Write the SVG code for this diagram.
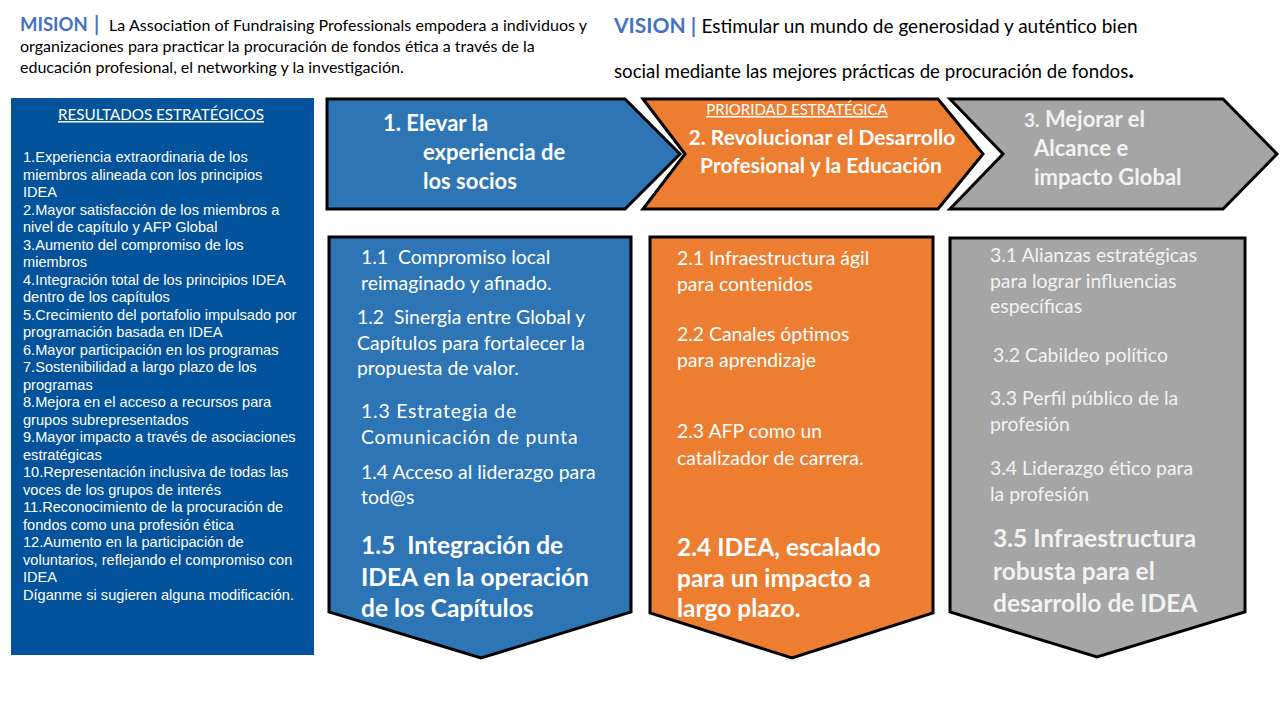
<svg xmlns="http://www.w3.org/2000/svg" width="1280" height="720" viewBox="0 0 1280 720">
<style>
.t{font-family:Lato,"Liberation Sans",sans-serif}
.a{font-family:"Liberation Sans",Arial,sans-serif}
.w{fill:#ffffff}
.lg{fill:#F2F2F2}
.sh{stroke:#000;stroke-width:3;stroke-linejoin:miter}
.item{font-size:14.6px;fill:#fff}
.sub{font-size:19.4px}
.big{font-size:24.5px;font-weight:bold}
.hd{font-size:22px;font-weight:bold}
.blue{fill:#4472C4;font-weight:bold}
</style>
<rect width="1280" height="720" fill="#fff"/>
<g id="mision">
<text class="t blue" x="20" y="31" font-size="18.5">MISION</text>
<text class="t blue" x="94" y="31" font-size="20">|</text>
<text class="t" x="109" y="31" font-size="16" fill="#000" textLength="478" lengthAdjust="spacing">La Association of Fundraising Professionals empodera a individuos y</text>
<text class="t" x="20" y="52" font-size="16" fill="#000">organizaciones para practicar la procuración de fondos ética a través de la</text>
<text class="t" x="20" y="73" font-size="16" fill="#000">educación profesional, el networking y la investigación.</text>
</g>
<g id="vision">
<text class="t" x="614" y="33" font-size="19"><tspan font-size="21" class="blue">VISION | </tspan><tspan fill="#000">Estimular un mundo de generosidad y auténtico bien</tspan></text>
<text class="t" x="614" y="78" font-size="18.7" fill="#000">social mediante las mejores prácticas de procuración de fondos<tspan font-size="24" font-weight="bold">.</tspan></text>
</g>
<g id="resultados">
<rect x="11" y="98" width="303" height="557" fill="#03529C"/>
<text class="t w" x="161" y="120" font-size="15.2" text-anchor="middle" text-decoration="underline">RESULTADOS ESTRATÉGICOS</text>
<g class="a item">
<text x="23" y="162">1.Experiencia extraordinaria de los</text>
<text x="23" y="179.5">miembros alineada con los principios</text>
<text x="23" y="197">IDEA</text>
<text x="23" y="214.5">2.Mayor satisfacción de los miembros a</text>
<text x="23" y="232">nivel de capítulo y AFP Global</text>
<text x="23" y="249.5">3.Aumento del compromiso de los</text>
<text x="23" y="267">miembros</text>
<text x="23" y="284.5">4.Integración total de los principios IDEA</text>
<text x="23" y="302">dentro de los capítulos</text>
<text x="23" y="319.5">5.Crecimiento del portafolio impulsado por</text>
<text x="23" y="337">programación basada en IDEA</text>
<text x="23" y="354.5">6.Mayor participación en los programas</text>
<text x="23" y="372">7.Sostenibilidad a largo plazo de los</text>
<text x="23" y="389.5">programas</text>
<text x="23" y="407">8.Mejora en el acceso a recursos para</text>
<text x="23" y="424.5">grupos subrepresentados</text>
<text x="23" y="442">9.Mayor impacto a través de asociaciones</text>
<text x="23" y="459.5">estratégicas</text>
<text x="23" y="477">10.Representación inclusiva de todas las</text>
<text x="23" y="494.5">voces de los grupos de interés</text>
<text x="23" y="512">11.Reconocimiento de la procuración de</text>
<text x="23" y="529.5">fondos como una profesión ética</text>
<text x="23" y="547">12.Aumento en la participación de</text>
<text x="23" y="564.5">voluntarios, reflejando el compromiso con</text>
<text x="23" y="582">IDEA</text>
<text x="23" y="599.5">Díganme si sugieren alguna modificación.</text>
</g>
</g>
<g id="prioridad1">
<polygon class="sh" points="327,99 625,99 680,154 625,209 327,209" fill="#2E75B6"/>
<text class="t w hd" x="383" y="131">1. Elevar la</text>
<text class="t w hd" x="423" y="160">experiencia de</text>
<text class="t w hd" x="423" y="189">los socios</text>
</g>
<g id="prioridad2">
<polygon class="sh" points="643,99 938,99 983,154 938,209 643,209 685,154" fill="#ED7D31"/>
<text class="t w" x="797" y="115" font-size="15" text-anchor="middle" text-decoration="underline">PRIORIDAD ESTRATÉGICA</text>
<text class="t w" x="822" y="145" font-size="21" font-weight="bold" text-anchor="middle">2. Revolucionar el Desarrollo</text>
<text class="t w" x="821" y="173" font-size="21" font-weight="bold" text-anchor="middle">Profesional y la Educación</text>
</g>
<g id="prioridad3">
<polygon class="sh" points="950,99 1223,99 1277,154 1223,209 950,209 1003,154" fill="#A5A5A5"/>
<text class="t lg hd" x="1024" y="127"><tspan font-size="19">3.</tspan> Mejorar el</text>
<text class="t lg hd" x="1034" y="156">Alcance e</text>
<text class="t lg hd" x="1034" y="185">impacto Global</text>
</g>
<g id="columna1">
<polygon class="sh" points="329,237 631,237 631,612 481,658 329,612" fill="#2E75B6"/>
<g class="t w sub">
<text x="361" y="264">1.1&#160; Compromiso local</text>
<text x="361" y="290">reimaginado y afinado.</text>
<text x="357" y="324">1.2&#160; Sinergia entre Global y</text>
<text x="357" y="350">Capítulos para fortalecer la</text>
<text x="357" y="375">propuesta de valor.</text>
<text x="361" y="418" letter-spacing="0.8">1.3 Estrategia de</text>
<text x="361" y="444" letter-spacing="0.8">Comunicación de punta</text>
<text x="361" y="479">1.4 Acceso al liderazgo para</text>
<text x="361" y="504">tod@s</text>
</g>
<text class="t w big" x="361" y="554">1.5&#160; Integración de</text>
<text class="t w big" x="361" y="586">IDEA en la operación</text>
<text class="t w big" x="361" y="617">de los Capítulos</text>
</g>
<g id="columna2">
<polygon class="sh" points="650,237 933,237 933,613 792,658 650,613" fill="#ED7D31"/>
<g class="t w sub">
<text x="677" y="265">2.1 Infraestructura ágil</text>
<text x="677" y="291">para contenidos</text>
<text x="677" y="341">2.2 Canales óptimos</text>
<text x="677" y="367">para aprendizaje</text>
<text x="677" y="438">2.3 AFP como un</text>
<text x="677" y="465">catalizador de carrera.</text>
</g>
<text class="t w big" x="677" y="556">2.4 IDEA, escalado</text>
<text class="t w big" x="677" y="587">para un impacto a</text>
<text class="t w big" x="677" y="617">largo plazo.</text>
</g>
<g id="columna3">
<polygon class="sh" points="950,238 1245,238 1245,612 1097,657 950,612" fill="#A5A5A5"/>
<g class="t lg sub">
<text x="990" y="262">3.1 Alianzas estratégicas</text>
<text x="990" y="288">para lograr influencias</text>
<text x="990" y="313">específicas</text>
<text x="993" y="362">3.2 Cabildeo político</text>
<text x="990" y="405">3.3 Perfil público de la</text>
<text x="990" y="431">profesión</text>
<text x="990" y="475">3.4 Liderazgo ético para</text>
<text x="990" y="501">la profesión</text>
</g>
<text class="t lg big" x="993" y="547">3.5 Infraestructura</text>
<text class="t lg big" x="993" y="580">robusta para el</text>
<text class="t lg big" x="993" y="612">desarrollo de IDEA</text>
</g>
<g id="connectors"/>
</svg>
